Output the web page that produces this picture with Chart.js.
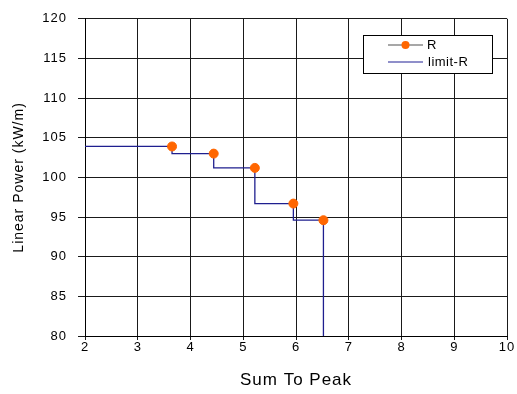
<!DOCTYPE html>
<html>
<head>
<meta charset="utf-8">
<script src="https://cdn.jsdelivr.net/npm/chart.js@4/dist/chart.umd.min.js"></script>
<style>
html,body{margin:0;padding:0;background:#fff;}
#wrap{width:517px;height:394px;}
</style>
</head>
<body>
<div id="wrap"><canvas id="c" width="517" height="394"></canvas></div>
<script>
// Data
const sumToPeak   = [3.65, 4.44, 5.22, 5.95, 6.52];
const linearPower = [103.9, 103.0, 101.2, 96.7, 94.6];
const limitX      = [2, 3.65, 4.44, 5.22, 5.95, 6.52];
const limitY      = [103.9, 103.0, 101.2, 96.7, 94.6, 80];
const xTicks      = [2, 3, 4, 5, 6, 7, 8, 9, 10];
const yTicks      = [80, 85, 90, 95, 100, 105, 110, 115, 120];
const seriesNames = ['R', 'limit-R'];

const FONT = 'Liberation Sans, Arial, sans-serif';
const ORANGE = '#FF6600';
const NAVY = '#1f1f8f';

const spacingPlugin = {
  id: 'spacing',
  beforeDraw(chart) { chart.ctx.letterSpacing = '1px'; }
};

const legendPlugin = {
  id: 'boxLegend',
  afterDraw(chart) {
    const ctx = chart.ctx;
    ctx.save();
    const x0 = 363.5, y0 = 35.5, w = 129, h = 38;
    ctx.fillStyle = '#fff';
    ctx.fillRect(x0, y0, w, h);
    ctx.strokeStyle = '#000';
    ctx.lineWidth = 1;
    ctx.strokeRect(x0, y0, w, h);
    // R entry
    ctx.strokeStyle = '#8a8a8a';
    ctx.lineWidth = 1.5;
    ctx.beginPath(); ctx.moveTo(388, 45); ctx.lineTo(423, 45); ctx.stroke();
    ctx.fillStyle = ORANGE;
    ctx.beginPath(); ctx.arc(405.5, 45, 4, 0, Math.PI * 2); ctx.fill();
    // limit-R entry
    ctx.strokeStyle = '#6a6ab8';
    ctx.lineWidth = 1.5;
    ctx.beginPath(); ctx.moveTo(388, 62); ctx.lineTo(423, 62); ctx.stroke();
    ctx.fillStyle = '#000';
    ctx.font = '13px ' + FONT;
    ctx.letterSpacing = '0.5px';
    ctx.textBaseline = 'middle';
    ctx.textAlign = 'left';
    ctx.fillText(seriesNames[0], 427, 45);
    ctx.fillText(seriesNames[1], 428, 62);
    ctx.restore();
  }
};

new Chart(document.getElementById('c'), {
  type: 'scatter',
  data: {
    datasets: [
      {
        label: seriesNames[0],
        data: sumToPeak.map((x, i) => ({ x: x, y: linearPower[i] })),
        showLine: false,
        pointRadius: 4.5,
        pointHoverRadius: 4.5,
        pointBackgroundColor: ORANGE,
        pointBorderColor: ORANGE,
        borderColor: ORANGE
      },
      {
        label: seriesNames[1],
        data: limitX.map((x, i) => ({ x: x, y: limitY[i] })),
        showLine: true,
        stepped: true,
        borderColor: NAVY,
        borderWidth: 1.3,
        pointRadius: 0,
        pointHoverRadius: 0,
        fill: false
      }
    ]
  },
  options: {
    responsive: false,
    animation: false,
    events: [],
    layout: { padding: { top: 13, right: 10, left: 0, bottom: 0 } },
    plugins: {
      legend: { display: false },
      tooltip: { enabled: false }
    },
    scales: {
      x: {
        type: 'linear',
        min: 2, max: 10,
        afterFit(s) { s.height = 58; },
        afterBuildTicks(s) { s.ticks = xTicks.map(v => ({ value: v })); },
        ticks: { color: '#000', font: { family: FONT, size: 13 }, padding: 0, maxRotation: 0 },
        grid: { color: '#1a1a1a', lineWidth: 1, tickLength: 4, drawTicks: true },
        border: { display: true, color: '#000', width: 1 },
        title: {
          display: true, text: 'Sum To Peak', color: '#000',
          font: { family: FONT, size: 17 },
          padding: { top: 0, bottom: 3 }
        }
      },
      y: {
        type: 'linear',
        min: 80, max: 120,
        afterFit(s) { s.width = 85; },
        afterBuildTicks(s) { s.ticks = yTicks.map(v => ({ value: v })); },
        ticks: { color: '#000', font: { family: FONT, size: 13 }, padding: 11 },
        grid: { color: '#1a1a1a', lineWidth: 1, tickLength: 7, drawTicks: true },
        border: { display: true, color: '#000', width: 1 },
        title: {
          display: true, text: 'Linear Power (kW/m)', color: '#000',
          font: { family: FONT, size: 14 },
          padding: { top: 11, bottom: 0 }
        }
      }
    }
  },
  plugins: [spacingPlugin, legendPlugin]
});
</script>
</body>
</html>
